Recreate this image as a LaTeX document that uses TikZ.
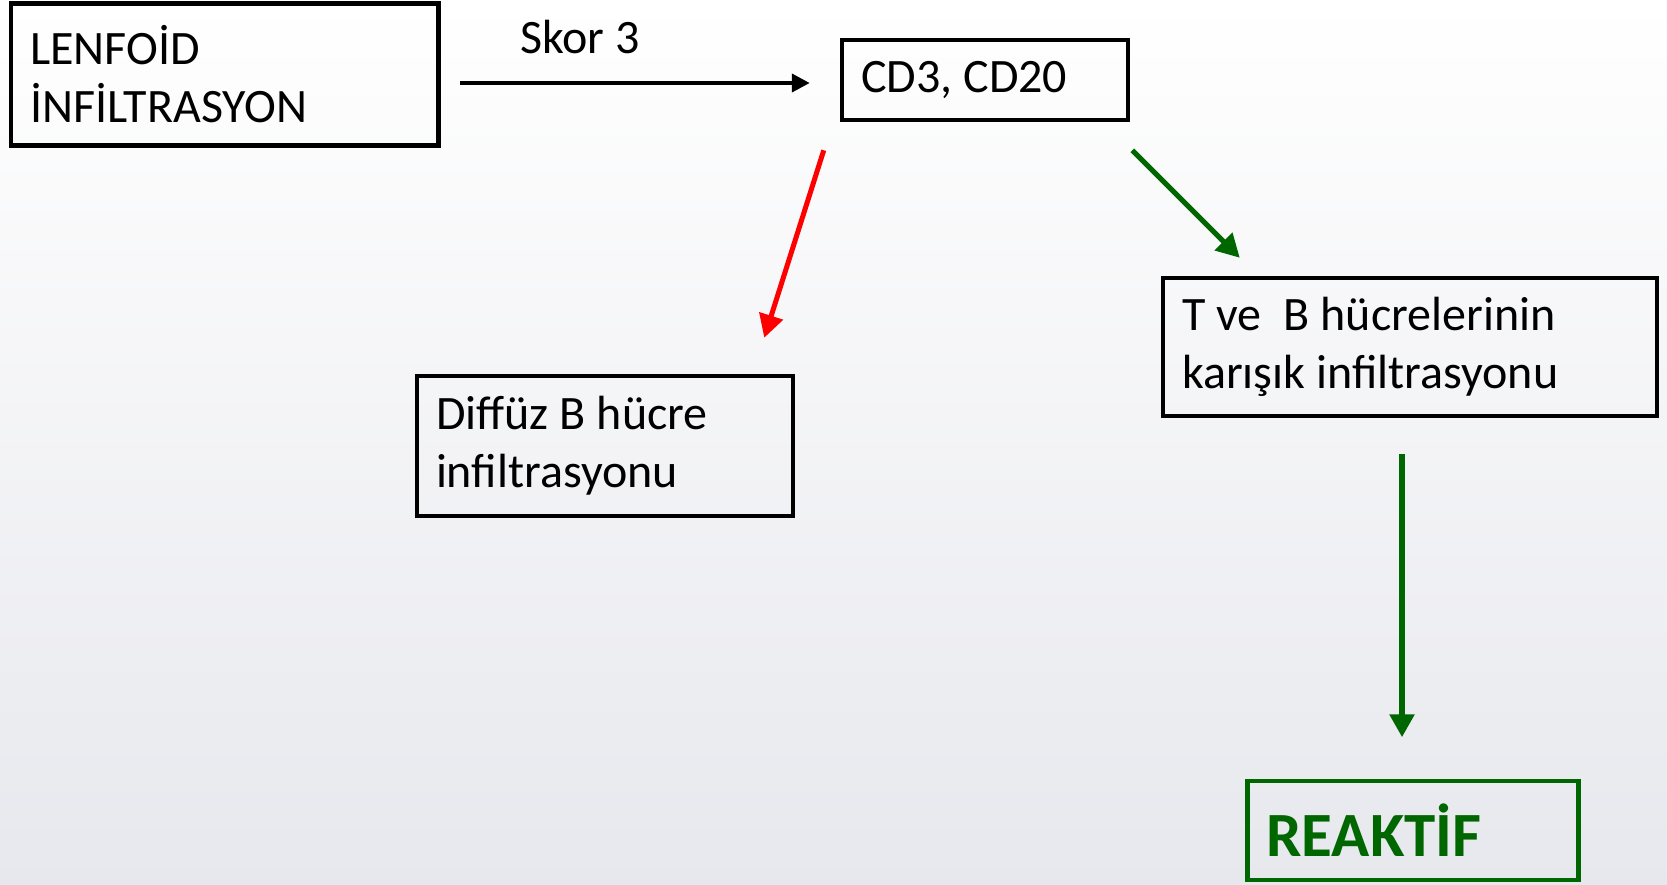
\documentclass[tikz,border=0pt]{standalone}
\usepackage{fontspec}
\setmainfont{Carlito}
\usetikzlibrary{arrows.meta}
\definecolor{okgreen}{RGB}{0,102,0}
\definecolor{bgbottom}{RGB}{231,232,237}
\definecolor{bgmiddle}{RGB}{246,246,248}
\begin{document}
\begin{tikzpicture}[x=1pt, y=-1pt, every node/.style={font=\fontsize{48}{58}\selectfont}]
\tikzset{flowbox/.style={draw,line width=4.5pt,align=left,inner xsep=19pt,inner ysep=0pt,
    execute at begin node={\spaceskip=0.23em\relax\xspaceskip=0.23em\relax}},
  flowarrow/.style={line width=5pt,-{Triangle[length=23pt,width=24pt]}}}
\useasboundingbox (0,0) rectangle (1667,884);
\shade[top color=white,middle color=bgmiddle,bottom color=bgbottom] (0,0) rectangle (1667,884);
\node[flowbox,text width=389.5pt,minimum height=142pt] (lenfoid) at (224.75,74.5) {LENFOİD\\İNFİLTRASYON};
\node[flowbox,text width=248pt,minimum height=80pt] (cd) at (985,80) {CD3, CD20};
\node[flowbox,text width=338pt,minimum height=140pt] (diffuz) at (605,446) {Diffüz B hücre\\infiltrasyonu};
\node[flowbox,text width=456pt,minimum height=138pt] (tveb) at (1410,347) {T ve\hspace{22pt}B hücrelerinin\\karışık infiltrasyonu};
\node[flowbox,draw=okgreen,text=okgreen,text width=293pt,minimum height=99pt,
  font=\fontsize{63}{70}\selectfont\bfseries] (reaktif) at (1413,830.5) {REAKTİF};
\node (skor) at (580,37) {Skor 3};
\draw[line width=4pt,-{Triangle[length=18pt,width=18pt]}] ([xshift=19pt,yshift=-8.5pt]lenfoid.east) -- ([xshift=-30pt,yshift=-3pt]cd.west);
\draw[flowarrow,red] ([xshift=-16pt,yshift=-28pt]cd.south west) -- ([xshift=-31pt,yshift=36pt]diffuz.north east);
\draw[flowarrow,okgreen] ([xshift=2pt,yshift=-28pt]cd.south east) -- ([xshift=79pt,yshift=18pt]tveb.north west);
% down to the result
\draw[flowarrow,okgreen,line width=6pt] ([xshift=-8pt,yshift=-36pt]tveb.south) -- ([xshift=-11pt,yshift=41.5pt]reaktif.north);
\end{tikzpicture}
\end{document}
